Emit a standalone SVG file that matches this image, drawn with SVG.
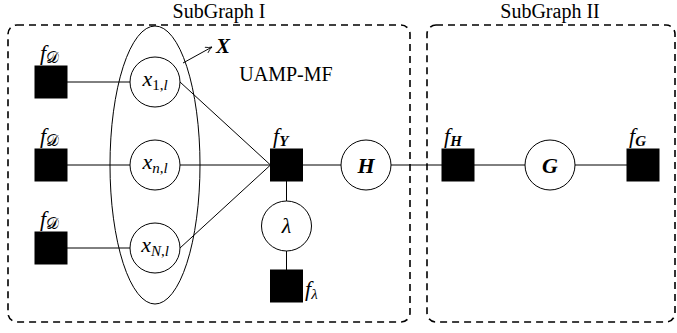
<svg xmlns="http://www.w3.org/2000/svg" width="677" height="333" viewBox="0 0 677 333">
<defs>
<style>
.fac{fill:#000;stroke:#000;stroke-width:1}
.var{fill:#fff;stroke:#000;stroke-width:1}
.edge{stroke:#000;stroke-width:1;fill:none}
.box{fill:none;stroke:#000;stroke-width:1.6;stroke-dasharray:7 5}
.t{font-family:"Liberation Serif","Times New Roman",serif;fill:#000}
.m{font-family:"Liberation Serif","Times New Roman",serif;font-style:italic;fill:#000}
.b{font-weight:bold}
</style>
<marker id="arr" viewBox="0 0 10 10" refX="9" refY="5" markerWidth="8" markerHeight="8" orient="auto" markerUnits="userSpaceOnUse">
<path d="M1,1 Q5,4 9,5 Q5,6 1,9" fill="none" stroke="#000" stroke-width="1"/>
</marker>
</defs>
<rect width="677" height="333" fill="#fff"/>

<g id="subgraph1">
<rect class="box" x="8" y="25" width="402" height="297" rx="9"/>
<text class="t" x="219" y="18" font-size="20" text-anchor="middle">SubGraph I</text>
<text class="t" x="286" y="81" font-size="20" text-anchor="middle">UAMP-MF</text>
</g>
<g id="subgraph2">
<rect class="box" x="427" y="25" width="248" height="297" rx="9"/>
<text class="t" x="550" y="18" font-size="20" text-anchor="middle">SubGraph II</text>
</g>

<g id="connectors">
<line class="edge" x1="67" y1="82" x2="130" y2="82"/>
<line class="edge" x1="67" y1="165" x2="130" y2="165"/>
<line class="edge" x1="67" y1="248" x2="130" y2="248"/>
<line class="edge" x1="180" y1="82" x2="270.5" y2="165"/>
<line class="edge" x1="180" y1="165" x2="270.5" y2="165"/>
<line class="edge" x1="180" y1="248" x2="270.5" y2="165"/>
<line class="edge" x1="302.5" y1="165" x2="341" y2="165"/>
<line class="edge" x1="391" y1="165" x2="442" y2="165"/>
<line class="edge" x1="474" y1="165" x2="525" y2="165"/>
<line class="edge" x1="575" y1="165" x2="627" y2="165"/>
<line class="edge" x1="286.5" y1="181" x2="286.5" y2="201"/>
<line class="edge" x1="286.5" y1="251" x2="286.5" y2="270"/>
<line class="edge" x1="183" y1="63" x2="212" y2="47" marker-end="url(#arr)"/>
</g>

<g id="X">
<ellipse class="edge" cx="155" cy="165" rx="45" ry="139"/>
<text class="m b" x="216" y="53" font-size="21">X</text>
</g>

<g id="fD1">
<rect class="fac" x="35" y="66" width="32" height="32"/>
<text class="m" x="40" y="60" font-size="22">f<tspan font-size="16" dy="3" font-style="normal" font-family="DejaVu Sans, sans-serif">𝒟</tspan></text>
</g>
<g id="fD2">
<rect class="fac" x="35" y="149" width="32" height="32"/>
<text class="m" x="40" y="143" font-size="22">f<tspan font-size="16" dy="3" font-style="normal" font-family="DejaVu Sans, sans-serif">𝒟</tspan></text>
</g>
<g id="fD3">
<rect class="fac" x="35" y="232" width="32" height="32"/>
<text class="m" x="40" y="226" font-size="22">f<tspan font-size="16" dy="3" font-style="normal" font-family="DejaVu Sans, sans-serif">𝒟</tspan></text>
</g>

<g id="x1">
<circle class="var" cx="155" cy="82" r="25"/>
<text class="m" x="155" y="86" font-size="22" text-anchor="middle">x<tspan font-size="15" dy="4" font-style="normal">1,</tspan><tspan font-size="15">l</tspan></text>
</g>
<g id="xn">
<circle class="var" cx="155" cy="165" r="25"/>
<text class="m" x="155" y="169" font-size="22" text-anchor="middle">x<tspan font-size="15" dy="4">n</tspan><tspan font-size="15" font-style="normal">,</tspan><tspan font-size="15">l</tspan></text>
</g>
<g id="xN">
<circle class="var" cx="155" cy="248" r="25"/>
<text class="m" x="155" y="252" font-size="22" text-anchor="middle">x<tspan font-size="15" dy="4">N</tspan><tspan font-size="15" font-style="normal">,</tspan><tspan font-size="15">l</tspan></text>
</g>

<g id="fY">
<rect class="fac" x="270.5" y="149" width="32" height="32"/>
<text class="m" x="273" y="143" font-size="22">f<tspan class="b" font-size="15" dy="3">Y</tspan></text>
</g>
<g id="H">
<circle class="var" cx="366" cy="165" r="25"/>
<text class="m b" x="366" y="173" font-size="22" text-anchor="middle">H</text>
</g>
<g id="lambda">
<circle class="var" cx="286.5" cy="226" r="25"/>
<text class="m" x="286.5" y="233" font-size="22" text-anchor="middle">λ</text>
</g>
<g id="flambda">
<rect class="fac" x="270.5" y="270" width="32" height="32"/>
<text class="m" x="305" y="296" font-size="22">f<tspan font-size="15" dy="3">λ</tspan></text>
</g>
<g id="fH">
<rect class="fac" x="442" y="149" width="32" height="32"/>
<text class="m" x="444" y="143" font-size="22">f<tspan class="b" font-size="15" dy="3">H</tspan></text>
</g>
<g id="G">
<circle class="var" cx="550" cy="165" r="25"/>
<text class="m b" x="550" y="173" font-size="22" text-anchor="middle">G</text>
</g>
<g id="fG">
<rect class="fac" x="627" y="149" width="32" height="32"/>
<text class="m" x="629" y="143" font-size="22">f<tspan class="b" font-size="15" dy="3">G</tspan></text>
</g>
</svg>
